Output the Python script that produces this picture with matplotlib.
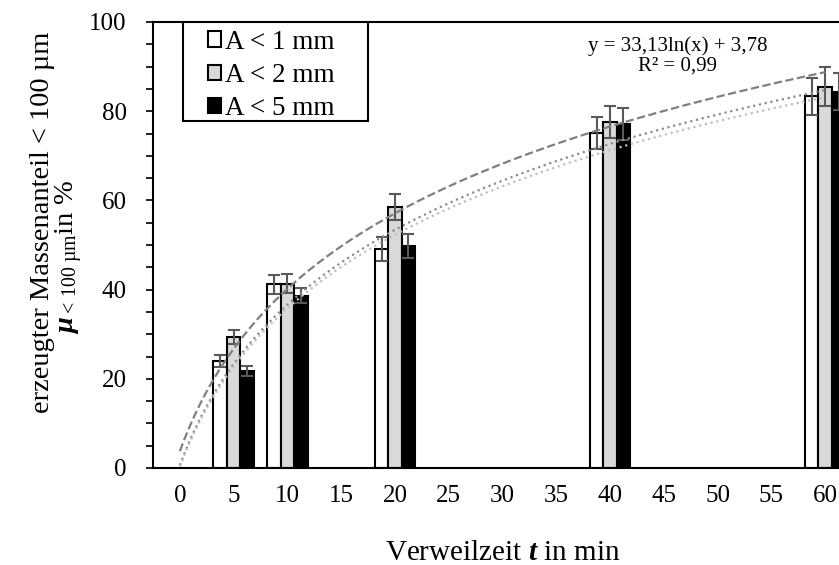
import matplotlib.pyplot as plt
import matplotlib.patches as mpatches
import numpy as np

plt.rcParams['font.family'] = 'Liberation Serif'
plt.rcParams['mathtext.fontset'] = 'custom'
plt.rcParams['mathtext.rm'] = 'Liberation Serif'
plt.rcParams['mathtext.it'] = 'Liberation Serif:italic:bold'
plt.rcParams['mathtext.bf'] = 'Liberation Serif:bold'

# Verweilzeiten und Massenanteile < 100 µm je Aufgabegröße
t_min = [5, 10, 20, 40, 60]
anteil_1mm = [24.0, 41.2, 49.1, 75.1, 83.3]
fehler_1mm = [1.4, 2.1, 2.7, 3.6, 4.2]
anteil_2mm = [29.4, 41.3, 58.5, 77.6, 85.5]
fehler_2mm = [1.6, 2.1, 2.9, 3.6, 4.3]
anteil_5mm = [21.8, 38.6, 49.8, 77.1, 84.4]
fehler_5mm = [1.1, 1.7, 2.7, 3.6, 4.1]

labels = ["A < 1 mm", "A < 2 mm", "A < 5 mm"]
farben = ["white", "#d9d9d9", "black"]

# Log-Trendlinien y = a*ln(x) + b, x = Kategorienummer (t/5 + 1)
trend_a = [33.13, 32.8, 32.3]
trend_b = [3.78, 0.6, 0.3]
trend_stil = [("--", "#808080"), (":", "#8c8c8c"), (":", "#bfbfbf")]

fig = plt.figure(figsize=(8.39, 5.65), dpi=100)
ax = fig.add_axes([153 / 839, 97 / 565, 699 / 839, 446 / 565])

breite = 1.25
for k, (werte, fehler) in enumerate([(anteil_1mm, fehler_1mm),
                                     (anteil_2mm, fehler_2mm),
                                     (anteil_5mm, fehler_5mm)]):
    x = np.array(t_min) + (k - 1) * breite
    ax.bar(x, werte, width=breite, color=farben[k], edgecolor="black",
           linewidth=1.5, label=labels[k], zorder=2)
    ax.errorbar(x, werte, yerr=fehler, fmt="none", ecolor="#595959",
                elinewidth=1.5, capsize=4, capthick=1.5, zorder=3)

t_kurve = np.linspace(0, 60, 300)
kat = t_kurve / 5 + 1
for a, b, (ls, c) in zip(trend_a, trend_b, trend_stil):
    ax.plot(t_kurve, a * np.log(kat) + b, linestyle=ls, color=c,
            linewidth=1.6, zorder=4)

ax.text(0.751, 0.968, "y = 33,13ln(x) + 3,78\nR² = 0,99", transform=ax.transAxes,
        ha="center", va="top", fontsize=15, linespacing=1.05)

ax.set_xlim(-2.5, 62.5)
ax.set_ylim(0, 100)
ax.set_xticks(np.arange(0, 61, 5))
ax.set_yticks(np.arange(0, 101, 20))
ax.set_yticks(np.arange(0, 101, 5), minor=True)
ax.tick_params(axis="x", length=0, pad=12, labelsize=18)
ax.tick_params(axis="y", which="both", direction="out", length=5, width=1.2,
               labelsize=18, pad=14)
for s in ax.spines.values():
    s.set_linewidth(1.5)

ax.set_xlabel("Verweilzeit $t$ in min", fontsize=21, labelpad=24)
fig.text(43 / 839, 1 - 222 / 565, "erzeugter Massenanteil < 100 µm",
         rotation=90, ha="center", va="center", fontsize=20.5)
fig.text(69 / 839, 1 - 257 / 565, r"$\mu_{\mathrm{<\,100\ µm}}$in %",
         rotation=90, ha="center", va="center", fontsize=20.5)

# Legendenrahmen separat, damit der Innenabstand links/rechts passt
rahmen = mpatches.Rectangle((0.043, 0.778), 0.265, 0.222, transform=ax.transAxes,
                            facecolor="white", edgecolor="black", linewidth=1.5,
                            zorder=5)
ax.add_patch(rahmen)
leg = ax.legend(loc="upper left", bbox_to_anchor=(0.078, 0.983), fontsize=19.5,
                frameon=False, handlelength=0.5, handleheight=0.5,
                handletextpad=0.15, labelspacing=0.31, borderpad=0,
                borderaxespad=0)
leg.set_zorder(6)

fig.savefig("out.png", dpi=100)
